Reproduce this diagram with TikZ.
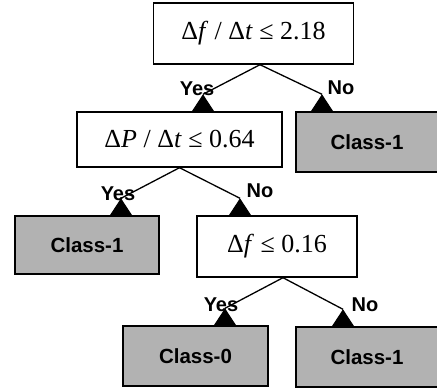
\documentclass[tikz,border=0pt]{standalone}
\usepackage{fontspec}
\setmainfont{Liberation Serif}
\newfontfamily\labelfont{Liberation Sans}
\usepackage{tikz}
\usetikzlibrary{arrows.meta,positioning,calc}

\begin{document}
\begin{tikzpicture}[x=1pt,y=-1pt,
  test/.style={draw,line width=1.4pt,fill=white,inner sep=0pt,
    font=\fontsize{26}{30}\selectfont},
  leaf/.style={draw,line width=1.4pt,fill=black!30,inner sep=0pt,
    font=\labelfont\bfseries\fontsize{20.5}{24}\selectfont},
  ans/.style={inner sep=0pt,font=\labelfont\bfseries\fontsize{20}{24}\selectfont},
  edge/.style={line width=1.3pt},
  uptri/.style={-{Triangle[length=17pt,width=22pt]},line width=1pt}]
  \clip (0,0) rectangle (437,390);
  % Decision nodes
  \node[test,minimum width=200pt,minimum height=61pt] (root) at (253.5,33.5)
    {Δ\textit{f} / Δ\textit{t} ≤ 2.18};
  \node[test,minimum width=205pt,minimum height=55pt] (dp) at (179.5,139.5)
    {Δ\textit{P} / Δ\textit{t} ≤ 0.64};
  \node[test,minimum width=160pt,minimum height=61pt] (df) at (277,246.5)
    {Δ\textit{f} ≤ 0.16};
  % Leaves
  \node[leaf,minimum width=142pt,minimum height=60pt] (c1r) at (367,142) {Class-1};
  \node[leaf,minimum width=144pt,minimum height=58pt] (c1l) at (87,245) {Class-1};
  \node[leaf,minimum width=145pt,minimum height=60pt] (c0) at (195.5,356) {Class-0};
  \node[leaf,minimum width=142pt,minimum height=60pt] (c1b) at (367,357) {Class-1};
  % Triangle tips on the children
  \coordinate (t1) at ($(dp.north)+(23.5,-17)$);
  \coordinate (t2) at ($(c1r.north)+(-45,-17)$);
  \coordinate (t3) at ($(c1l.north)+(34,-17)$);
  \coordinate (t4) at ($(df.north)+(-37,-17)$);
  \coordinate (t5) at ($(c0.north)+(29.5,-17)$);
  \coordinate (t6) at ($(c1b.north)+(-24,-17)$);
  % Branches
  \draw[edge] ($(root.south)+(6.5,0)$) -- (t1);
  \draw[edge] ($(root.south)+(6.5,0)$) -- (t2);
  \draw[edge] (dp.south) -- (t3);
  \draw[edge] (dp.south) -- (t4);
  \draw[edge] ($(df.south)+(6,0)$) -- (t5);
  \draw[edge] ($(df.south)+(6,0)$) -- (t6);
  \foreach \t/\c in {t1/dp,t2/c1r,t3/c1l,t4/df,t5/c0,t6/c1b}
    \draw[uptri] (\c.north -| \t) -- (\t);
  % Yes / No labels
  \node[ans] (y1) at (197,89) {Yes};
  \node[ans] (n1) at (341,88) {No};
  \node[ans] (y2) at (118,194) {Yes};
  \node[ans] (n2) at (260,191) {No};
  \node[ans] (y3) at (221,305) {Yes};
  \node[ans] (n3) at (365,305) {No};
\end{tikzpicture}
\end{document}
